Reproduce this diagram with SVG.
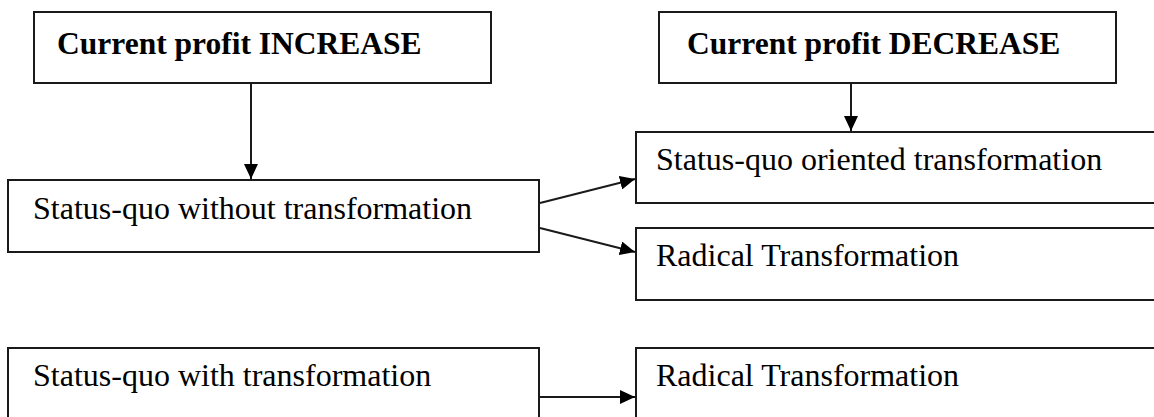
<svg xmlns="http://www.w3.org/2000/svg" width="1154" height="417" viewBox="0 0 1154 417">
<defs>
<style>
.box{fill:#fff;stroke:#1a1a1a;stroke-width:2}
.t{font-family:"Liberation Serif","Times New Roman",serif;font-size:32px;fill:#000}
.b{font-weight:bold;font-size:31.5px}
.c{stroke:#1a1a1a;stroke-width:2;fill:none;marker-end:url(#ah)}
</style>
<marker id="ah" markerUnits="userSpaceOnUse" markerWidth="16" markerHeight="14" refX="15" refY="7" orient="auto">
<path d="M0,0 L15,7 L0,14 z" fill="#000"/>
</marker>
</defs>
<rect width="1154" height="417" fill="#fff"/>
<g id="n-increase"><rect class="box" x="34" y="12" width="457" height="71"/><text class="t b" x="57" y="54">Current profit INCREASE</text></g>
<g id="n-decrease"><rect class="box" x="659" y="12" width="457" height="71"/><text class="t b" x="687" y="54">Current profit DECREASE</text></g>
<g id="n-sq-without"><rect class="box" x="8" y="180" width="531" height="72"/><text class="t" x="33" y="219">Status-quo without transformation</text></g>
<g id="n-sq-oriented"><rect class="box" x="636" y="132" width="530" height="71"/><text class="t" x="656" y="170">Status-quo oriented transformation</text></g>
<g id="n-radical1"><rect class="box" x="636" y="228" width="530" height="72"/><text class="t" x="656" y="266">Radical Transformation</text></g>
<g id="n-sq-with"><rect class="box" x="8" y="348" width="531" height="90"/><text class="t" x="33" y="386">Status-quo with transformation</text></g>
<g id="n-radical2"><rect class="box" x="636" y="348" width="530" height="90"/><text class="t" x="656" y="386">Radical Transformation</text></g>
<g id="connectors">
<line class="c" x1="251" y1="84" x2="251" y2="179"/>
<line class="c" x1="851" y1="84" x2="851" y2="131"/>
<line class="c" x1="540" y1="203" x2="635" y2="179"/>
<line class="c" x1="540" y1="228" x2="635" y2="252"/>
<line class="c" x1="540" y1="397" x2="635" y2="397"/>
</g>
</svg>
